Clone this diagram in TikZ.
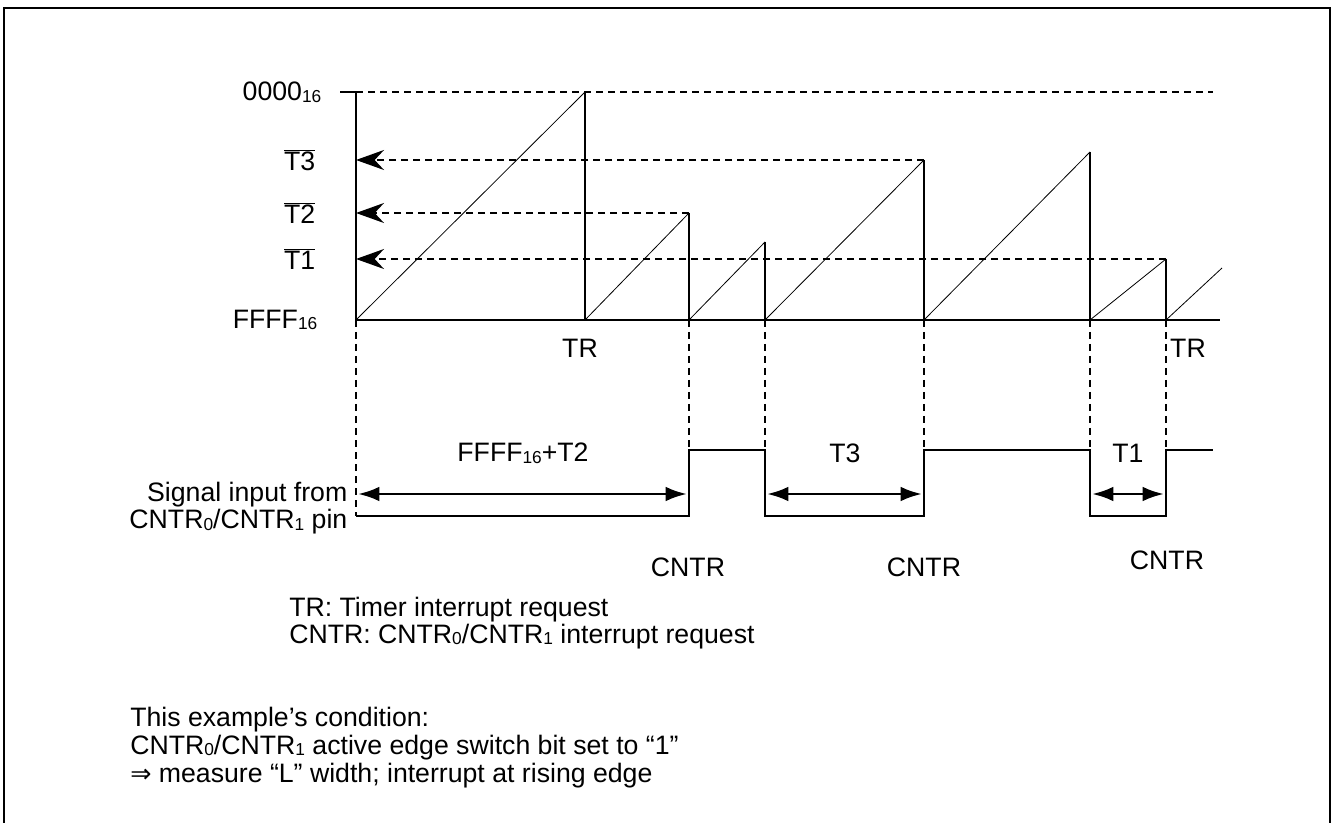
\documentclass[tikz,border=0pt]{standalone}
\usepackage{fontspec}
\setmainfont{Liberation Sans}
\newfontfamily\symfont{DejaVu Sans}
\usetikzlibrary{arrows.meta}
\newcommand{\lowidx}[1]{\raisebox{-0.12ex}{\fontsize{13}{13}\selectfont #1}}
\newcommand{\barT}[1]{$\overline{\mbox{T#1}}$}
\tikzset{
  frame/.style={line width=2.2pt},
  axis/.style={line width=1.9pt},
  ramp/.style={line width=0.6pt},
  drop/.style={line width=1.7pt},
  guide/.style={line width=1.4pt, dash pattern=on 5.5pt off 3.5pt},
  vguide/.style={line width=1.1pt, dash pattern=on 5.5pt off 3.5pt},
  signal/.style={line width=1.7pt},
  span arrow/.style={line width=2.2pt, {Latex[length=16pt,width=11pt]}-{Latex[length=16pt,width=11pt]}},
  level arrow/.style={guide, -{Stealth[length=21pt,width=15pt,inset=7pt]}},
  note/.style={anchor=base west, inner sep=0pt}
}
\begin{document}
\begin{tikzpicture}[x=0.75pt,y=-0.75pt,font=\fontsize{20}{20.25}\selectfont]
\useasboundingbox (0,0) rectangle (1335,823);
\draw[frame] (4,823) -- (4,8) -- (1330,8) -- (1330,823);

\coordinate (o) at (356,320);
\coordinate (top) at (356,92);
\coordinate (lo) at (356,516);
\draw[axis] (340,92) -- (top) -- (o) -- (1220,320);

\foreach \i/\s/\e/\p in {1/356/585/92, 2/585/689/213, 3/689/765/242, 4/765/924/160, 5/924/1090/152, 6/1090/1166/259}{
  \coordinate (p\i) at (\e,\p);
  \coordinate (b\i) at (\e,320);
  \draw[ramp] (\s,320) -- (p\i);
  \draw[drop] (p\i) -- (b\i);
}
\draw[ramp] (b6) -- (1222,268);

\draw[guide] (top) -- (1213,92);
\draw[level arrow] (p4) -- (p4 -| o);
\draw[level arrow] (p2) -- (p2 -| o);
\draw[level arrow] (p6) -- (p6 -| o);

\node[anchor=east] (top label) at (326,92) {0000\lowidx{16}};
\node[anchor=east] (t3 label) at (320,160) {\barT{3}};
\node[anchor=east] (t2 label) at (320,213) {\barT{2}};
\node[anchor=east] (t1 label) at (320,259) {\barT{1}};
\node[anchor=east] (bot label) at (322,320) {FFFF\lowidx{16}};
\node (tr a) at (580,348) {TR};
\node (tr b) at (1188,348) {TR};

\draw[vguide] (o) -- (lo);
\foreach \i in {2,3,4,5,6}
  \draw[vguide] (b\i) -- ++(0,130);

\draw[signal] (lo) -- (689,516) -- (689,450) -- (765,450) -- (765,516) -- (924,516)
  -- (924,450) -- (1090,450) -- (1090,516) -- (1166,516) -- (1166,450) -- (1213,450);

\draw[span arrow] (358,494) -- (687,494);
\draw[span arrow] (767,494) -- (922,494);
\draw[span arrow] (1092,494) -- (1164,494);
\node (w2) at (523,453) {FFFF\lowidx{16}+T2};
\node (w3) at (845,453) {T3};
\node (w1) at (1128,453) {T1};

\node[anchor=east, align=right] (sig) at (352,508) {Signal input from\\CNTR\lowidx{0}/CNTR\lowidx{1} pin};
\node (cn a) at (688,567) {CNTR};
\node (cn b) at (924,567) {CNTR};
\node (cn c) at (1167,560) {CNTR};

\node[note] (legend a) at (289,616) {TR: Timer interrupt request};
\node[note] (legend b) at (289,643) {CNTR: CNTR\lowidx{0}/CNTR\lowidx{1} interrupt request};
\node[note] (cond a) at (130,726) {This example's condition:};
\node[note] (cond b) at (130,754) {CNTR\lowidx{0}/CNTR\lowidx{1} active edge switch bit set to ``1''};
\node[note] (cond c) at (130,782) {{\symfont\fontsize{19}{19}\selectfont ⇒} measure ``L'' width; interrupt at rising edge};
\end{tikzpicture}
\end{document}
